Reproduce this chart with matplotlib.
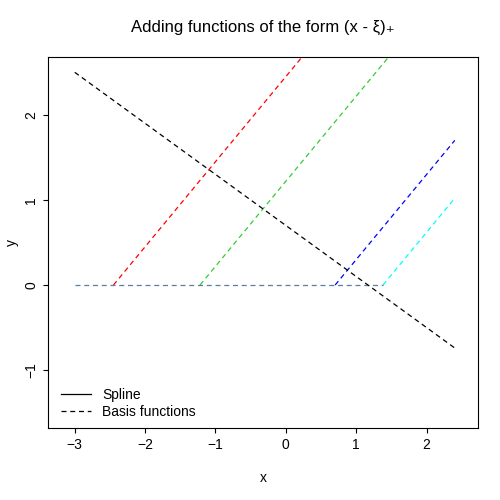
import numpy as np
import matplotlib
matplotlib.use('Agg')
import matplotlib.pyplot as plt

plt.rcParams['font.family'] = ['Liberation Sans', 'DejaVu Sans']

# knots and colours of the basis functions (x - xi)+
knots = [-2.45, -1.22, 0.70, 1.38]
knot_colors = ['red', '#33cc33', 'blue', 'cyan']
x_grid = [-3.0, -2.45, -1.22, 0.70, 1.38, 2.4]

# spline endpoints
spline_x = [-3.0, 2.4]
spline_y = [2.5, -0.74]

fig = plt.figure(figsize=(5, 5), dpi=100)
ax = fig.add_axes([0.096, 0.144, 0.86, 0.742])

for k, c in zip(knots, knot_colors):
    xk = np.array([k] + [v for v in x_grid if v > k])
    ax.plot(xk, xk - k, ls=(0, (4, 3)), color=c, lw=0.9)
ax.plot([-3.0, 1.38], [0, 0], ls=(0, (4, 3)), color='#5a7fa0', lw=0.9)
ax.plot(spline_x, spline_y, ls=(0, (4, 3)), color='black', lw=0.9)

ax.plot([], [], color='black', lw=0.9, label='Spline')
ax.plot([], [], color='black', lw=0.9, ls=(0, (4, 3)), label='Basis functions')
ax.legend(loc='lower left', frameon=False, fontsize=10, handlelength=2.2,
          bbox_to_anchor=(0.0, -0.01), labelspacing=0.25)

ax.set_xlim(-3.38, 2.73)
ax.set_ylim(-1.68, 2.68)
ax.set_xticks([-3, -2, -1, 0, 1, 2])
ax.set_yticks([-1, 0, 1, 2])
ax.tick_params(labelsize=10)
for lab in ax.get_yticklabels():
    lab.set_rotation(90)
    lab.set_va('center')
ax.set_xlabel('x', fontsize=10, labelpad=14)
ax.set_ylabel('y', fontsize=10, labelpad=4)
ax.set_title('Adding functions of the form (x - \u03be)\u208a', fontsize=12, pad=18)

fig.savefig('out.png', dpi=100)
